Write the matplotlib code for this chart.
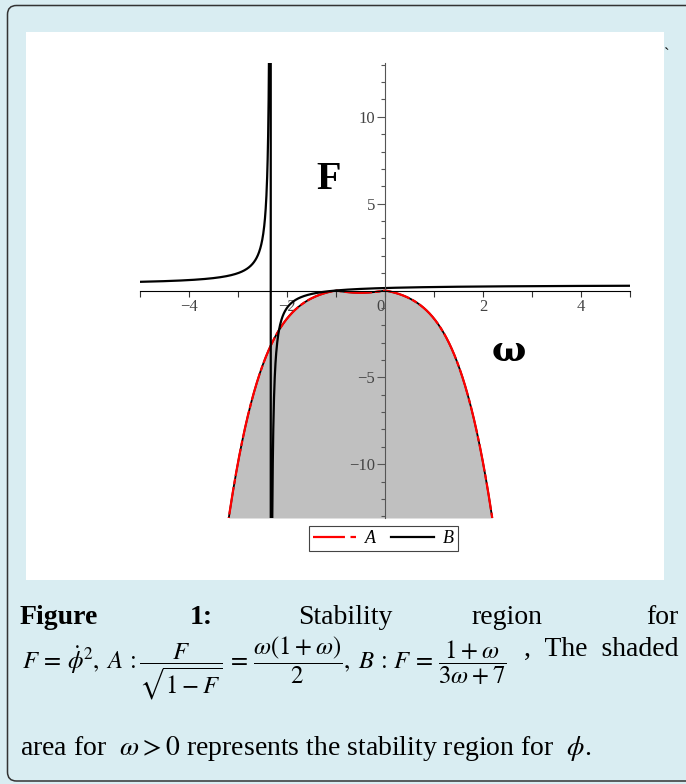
import numpy as np
import matplotlib
matplotlib.use("Agg")
import matplotlib.pyplot as plt
from matplotlib.patches import FancyBboxPatch, Rectangle
from matplotlib.lines import Line2D

plt.rcParams['mathtext.fontset'] = 'stix'
plt.rcParams['font.family'] = ['Liberation Serif', 'DejaVu Serif']
plt.rcParams['lines.scale_dashes'] = False

# curve definitions from the caption
# A: F / sqrt(1 - F) = omega (1 + omega) / 2
a_coef = [0.5, 1.0]          # k = a0 * omega * (a1 + omega)
# B: F = (1 + omega) / (3 omega + 7)
b_num = [1.0, 1.0]           # b0 + b1*omega
b_den = [7.0, 3.0]           # d0 + d1*omega

x_range = [-5, 5]
y_range = [-13.1, 13.1]
x_tick_labels = [-4, -2, 0, 2, 4]
y_tick_labels = [-10, -5, 5, 10]
legend_labels = ['A', 'B']

omega = np.linspace(x_range[0], x_range[1], 2001)
k = a_coef[0] * omega * (a_coef[1] + omega)
F_a = -(k**2 + np.sqrt(k**4 + 4 * k**2)) / 2
F_b = (b_num[0] + b_num[1] * omega) / (b_den[0] + b_den[1] * omega)

fig = plt.figure(figsize=(6.86, 7.84), dpi=100)
fig.patch.set_facecolor('#d9edf2')

# frame and white panel (behind the axes)
fig.patches.append(FancyBboxPatch((0.075, 0.03), 7.2, 7.755,
                                  boxstyle='round,pad=0,rounding_size=0.09',
                                  transform=fig.dpi_scale_trans,
                                  facecolor='#d9edf2', edgecolor='#333333',
                                  linewidth=1.1, zorder=-3))
fig.patches.append(Rectangle((0.26, 2.04), 6.38, 5.48,
                             transform=fig.dpi_scale_trans,
                             facecolor='white', edgecolor='none', zorder=-2))

ax = fig.add_axes([140 / 686, 1 - 518 / 784, 490 / 686, 455 / 784])
ax.set_facecolor('none')
ax.set_xlim(x_range)
ax.set_ylim(y_range)

ax.fill_between(omega, np.maximum(F_a, y_range[0]), y_range[0],
                color='#c0c0c0', linewidth=0, zorder=1)
ax.plot(omega, F_a, color='black', lw=1.3, zorder=2)
ax.plot(omega, F_a, color='#ff0000', lw=1.6, dashes=(20, 2, 4, 2), zorder=3)
ax.plot(omega, F_b, color='black', lw=1.6, zorder=4)

for s in ['top', 'right']:
    ax.spines[s].set_visible(False)
ax.spines['left'].set_position(('data', 0))
ax.spines['bottom'].set_position(('data', 0))
ax.spines['left'].set_color('#555555')
ax.spines['bottom'].set_color('black')
ax.spines['left'].set_zorder(5)
ax.spines['bottom'].set_zorder(5)

ax.set_xticks(range(-5, 6))
ax.set_xticklabels([str(v).replace('-', '\u2212') if v in x_tick_labels else '' for v in range(-5, 6)])
ax.set_yticks([v for v in range(-13, 14) if v % 5 == 0 and v != 0])
ax.set_yticklabels([str(v).replace('-', '\u2212') for v in y_tick_labels])
ax.set_yticks([v for v in range(-13, 14) if v % 5 != 0], minor=True)
ax.tick_params(axis='x', direction='out', length=4, width=0.8, colors='#333333',
               labelsize=12, labelcolor='#444444', pad=2)
ax.tick_params(axis='y', which='major', direction='out', length=6, width=0.8,
               colors='#555555', labelsize=12, labelcolor='#444444', pad=1)
ax.tick_params(axis='y', which='minor', direction='out', length=3, width=0.8, colors='#555555')
# the zero label sits just left of the vertical axis
ax.get_xticklabels()[5].set_ha('right')

ax.text(-1.16, 6.4, 'F', fontsize=29, fontweight='bold', ha='center', va='center')
ax.text(2.53, -3.5, '\u03c9', fontsize=26, fontweight='bold', ha='center', va='center',
        family=['DejaVu Serif'])

handles = [Line2D([], [], color='#ff0000', lw=1.6, dashes=(23, 4, 4, 4)),
           Line2D([], [], color='black', lw=1.6)]
leg = fig.legend(handles, legend_labels, loc='center', ncol=2,
                 bbox_to_anchor=(383.5 / 686, 1 - 538.5 / 784),
                 prop={'family': 'Liberation Serif', 'style': 'italic', 'size': 13},
                 frameon=True, fancybox=False, framealpha=1, edgecolor='#444444',
                 handlelength=2.4, handletextpad=0.5, columnspacing=0.8,
                 borderpad=0.2, borderaxespad=0)
leg.get_frame().set_linewidth(0.8)

fig.text(667 / 686, 1 - 55 / 784, '`', fontsize=12, ha='center', va='center')

# caption
fs = 20
y1 = 1 - 624 / 784
fig.text(20 / 686, y1, 'Figure', fontsize=fs, fontweight='bold', va='baseline')
fig.text(190 / 686, y1, '1:', fontsize=fs, fontweight='bold', va='baseline')
fig.text(298 / 686, y1, 'Stability', fontsize=fs, va='baseline')
fig.text(471 / 686, y1, 'region', fontsize=fs, va='baseline')
fig.text(678 / 686, y1, 'for', fontsize=fs, va='baseline', ha='right')

fig.text(22 / 686, 1 - 668 / 784,
         r'$F\,=\,\dot{\phi}^{2},\;A\,:\dfrac{F}{\sqrt{1-F}}\,=\,\dfrac{\omega\left(1+\omega\right)}{2},\;B\,:\,F\,=\,\dfrac{1+\omega}{3\omega+7}$',
         fontsize=17.8, va='center')
fig.text(678 / 686, 1 - 656 / 784, ',  The  shaded', fontsize=fs, va='baseline', ha='right')

fig.text(20 / 686, 1 - 755 / 784,
         r'area for  $\omega>0$ represents the stability region for  $\phi$.',
         fontsize=fs, va='baseline')

fig.savefig('out.png', dpi=100, facecolor=fig.get_facecolor())
